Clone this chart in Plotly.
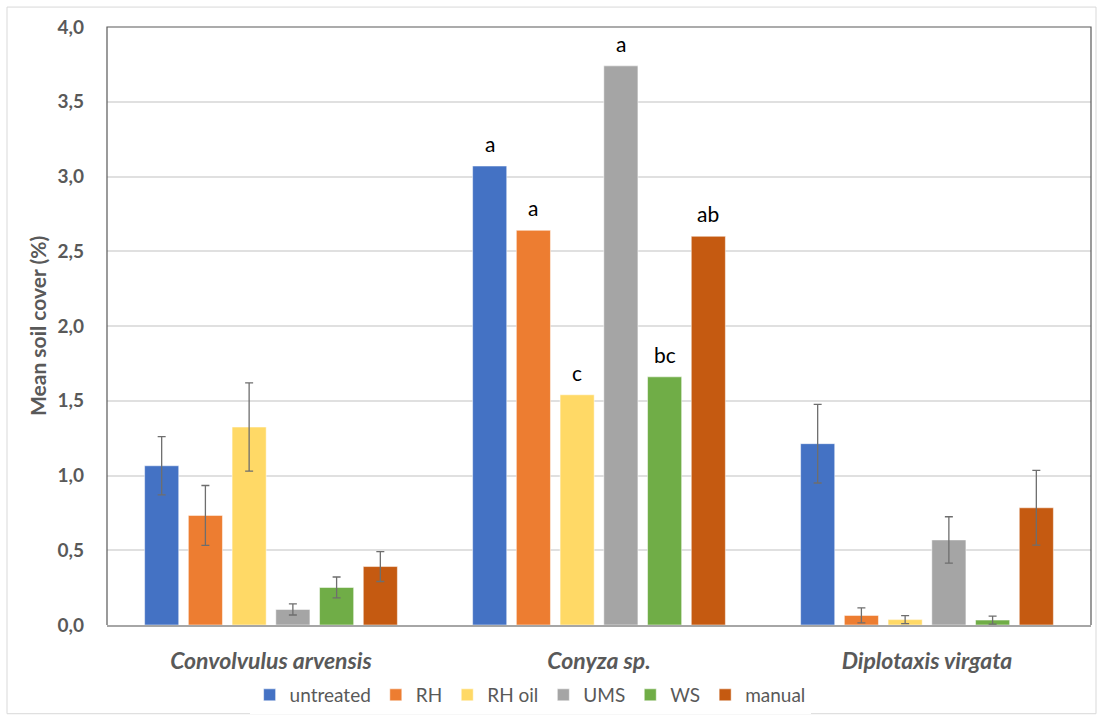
import plotly.graph_objects as go

species = ["<b><i>Convolvulus arvensis</i></b>", "<b><i>Conyza sp.</i></b>", "<b><i>Diplotaxis virgata</i></b>"]
treatments = ["untreated", "RH", "RH oil", "UMS", "WS", "manual"]
colors = ["#4472C4", "#ED7D31", "#FFD966", "#A5A5A5", "#70AD47", "#C55A11"]

# mean soil cover per treatment: [Convolvulus, Conyza, Diplotaxis]
untreated = [1.065, 3.07, 1.213]
rh = [0.733, 2.64, 0.064]
rh_oil = [1.324, 1.54, 0.036]
ums = [0.104, 3.74, 0.569]
ws = [0.251, 1.66, 0.033]
manual = [0.391, 2.60, 0.784]

# standard errors (none shown for Conyza)
err_untreated = [0.195, None, 0.263]
err_rh = [0.200, None, 0.050]
err_rh_oil = [0.295, None, 0.027]
err_ums = [0.037, None, 0.155]
err_ws = [0.070, None, 0.027]
err_manual = [0.100, None, 0.250]

# significance letters (Conyza only)
let_untreated = ["", "a", ""]
let_rh = ["", "a", ""]
let_rh_oil = ["", "c", ""]
let_ums = ["", "a", ""]
let_ws = ["", "bc", ""]
let_manual = ["", "ab", ""]

yticks = [0, 0.5, 1.0, 1.5, 2.0, 2.5, 3.0, 3.5, 4.0]
yticklabels = ["0,0", "0,5", "1,0", "1,5", "2,0", "2,5", "3,0", "3,5", "4,0"]

values = [untreated, rh, rh_oil, ums, ws, manual]
errors = [err_untreated, err_rh, err_rh_oil, err_ums, err_ws, err_manual]
letters = [let_untreated, let_rh, let_rh_oil, let_ums, let_ws, let_manual]

FONT = "Lato, 'Open Sans', sans-serif"
BARGAP = 0.2
n = len(treatments)

fig = go.Figure()
annotations = []
for i, (name, col, v, e, t) in enumerate(zip(treatments, colors, values, errors, letters)):
    marker = dict(color=col, line=dict(color="rgba(255,255,255,0.5)", width=1))
    with_err = [k for k, x in enumerate(e) if x is not None]
    no_err = [k for k, x in enumerate(e) if x is None]
    # bars carrying error bars
    fig.add_trace(go.Bar(
        name=name, x=[species[k] for k in with_err], y=[v[k] for k in with_err],
        offsetgroup=name, legendgroup=name, marker=marker,
        error_y=dict(type="data", array=[e[k] for k in with_err], visible=True,
                     color="#6E6E6E", thickness=1.3, width=4),
    ))
    # bars without error bars, sharing the same slot
    fig.add_trace(go.Bar(
        name=name, x=[species[k] for k in no_err], y=[v[k] for k in no_err],
        offsetgroup=name, legendgroup=name, showlegend=False, marker=marker,
    ))
    # letters above the bars
    offset = -(1 - BARGAP) / 2 + (i + 0.5) * (1 - BARGAP) / n
    for k, lab in enumerate(t):
        if lab:
            annotations.append(dict(
                x=k + offset, y=v[k], xref="x", yref="y", text=lab, showarrow=False,
                yanchor="bottom", yshift=8, font=dict(family=FONT, size=21, color="#000000"),
            ))

annotations.append(dict(
    text="<b>Mean soil cover (%)</b>", xref="paper", yref="paper",
    x=(37 - 107) / 984, y=0.5, xanchor="center", yanchor="middle", textangle=-90,
    showarrow=False, font=dict(size=21, color="#595959", family=FONT),
))

fig.update_layout(
    width=1097, height=720,
    barmode="group", bargap=BARGAP, bargroupgap=0.22,
    paper_bgcolor="white", plot_bgcolor="white",
    margin=dict(l=107, r=6, t=27, b=93),
    font=dict(family=FONT, color="#595959"),
    showlegend=True,
    legend=dict(orientation="h", x=0.43, xanchor="center", y=-0.117, yanchor="middle",
                font=dict(size=19, color="#595959"), itemwidth=30, traceorder="normal"),
    xaxis=dict(type="category", categoryorder="array", categoryarray=species,
               showline=True, linecolor="#A6A6A6", linewidth=2, ticks="",
               tickfont=dict(size=23, color="#595959"), ticklabelstandoff=14),
    yaxis=dict(range=[0, 4.0], tickvals=yticks, ticktext=[f"<b>{s}</b>" for s in yticklabels],
               showgrid=True, gridcolor="#E0E0E0", gridwidth=1.5, zeroline=False,
               tickfont=dict(size=19, color="#595959"), ticklabelstandoff=22, showline=False),
    shapes=[
        dict(type="path", xref="paper", yref="paper", path="M 0,0 L 0,1 L 1,1 L 1,0",
             line=dict(color="#595959", width=1.2), layer="above"),
        dict(type="rect", xref="paper", yref="paper",
             x0=(7 - 107) / 984, x1=(1096 - 107) / 984, y0=-(716 - 627) / 600, y1=(627 - 7) / 600,
             line=dict(color="#D9D9D9", width=1), layer="below"),
    ],
    annotations=annotations,
)

fig.write_html("out.html")
